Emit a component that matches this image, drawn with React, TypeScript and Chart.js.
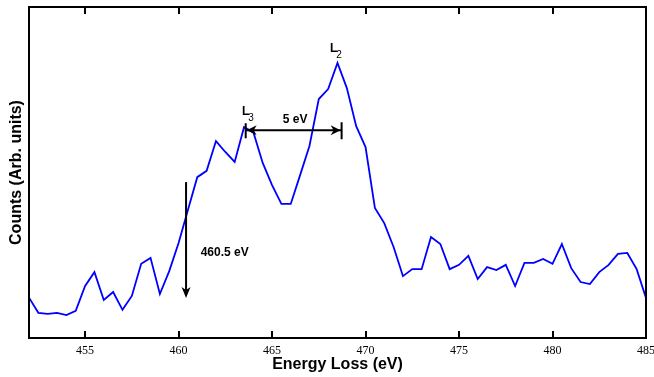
import React, { useEffect, useRef } from "react";
import { Chart, registerables } from "chart.js";

Chart.register(...registerables);

const energy = [
  452, 452.5, 453, 453.5, 454, 454.5, 455, 455.5, 456, 456.5, 457, 457.5,
  458, 458.5, 459, 459.5, 460, 460.5, 461, 461.5, 462, 462.5, 463, 463.5,
  464, 464.5, 465, 465.5, 466, 466.5, 467, 467.5, 468, 468.5, 469, 469.5,
  470, 470.5, 471, 471.5, 472, 472.5, 473, 473.5, 474, 474.5, 475, 475.5,
  476, 476.5, 477, 477.5, 478, 478.5, 479, 479.5, 480, 480.5, 481, 481.5,
  482, 482.5, 483, 483.5, 484, 484.5, 485,
];

const counts = [
  122, 76, 73, 76, 69, 82, 157, 199, 115, 139, 85, 127,
  224, 242, 133, 202, 287, 387, 486, 505, 595, 562, 532, 637,
  622, 529, 462, 405, 405, 492, 580, 722, 752, 831, 755, 640,
  577, 393, 347, 275, 187, 208, 208, 305, 284, 208, 221, 248,
  178, 214, 205, 221, 157, 227, 227, 239, 224, 284, 211, 169,
  163, 199, 221, 254, 257, 208, 121,
];

const xTicks = [455, 460, 465, 470, 475, 480, 485];

const xTitle = "Energy Loss (eV)";
const yTitle = "Counts (Arb. units)";

// annotation anchors in data units
const onsetArrow = { x: 460.4, yFrom: 471, yTo: 124 };
const onsetLabel = { text: "460.5 eV", x: 461.18, y: 258 };
const splitArrow = { x1: 463.59, x2: 468.72, y: 628 };
const splitLabel = { text: "5 eV", x: 466.23, y: 660 };
const l3Label = { main: "L", sub: "3", x: 463.39, y: 674 };
const l2Label = { main: "L", sub: "2", x: 468.1, y: 864 };

const framePlugin = {
  id: "framePlugin",
  afterDraw(chart: any) {
    const { ctx, chartArea, scales } = chart;
    const xs = scales.x;
    const ys = scales.y;
    ctx.save();
    ctx.strokeStyle = "#000";
    ctx.fillStyle = "#000";
    ctx.lineWidth = 2;
    ctx.strokeRect(
      chartArea.left,
      chartArea.top,
      chartArea.right - chartArea.left,
      chartArea.bottom - chartArea.top
    );
    // inward ticks
    xs.ticks.forEach((t: any) => {
      const px = Math.round(xs.getPixelForValue(t.value));
      ctx.beginPath();
      ctx.moveTo(px, chartArea.bottom);
      ctx.lineTo(px, chartArea.bottom - 7);
      ctx.moveTo(px, chartArea.top);
      ctx.lineTo(px, chartArea.top + 7);
      ctx.stroke();
    });

    // onset arrow
    const ax = xs.getPixelForValue(onsetArrow.x);
    const ay1 = ys.getPixelForValue(onsetArrow.yFrom);
    const ay2 = ys.getPixelForValue(onsetArrow.yTo);
    ctx.lineWidth = 2;
    ctx.beginPath();
    ctx.moveTo(ax, ay1);
    ctx.lineTo(ax, ay2 - 6);
    ctx.stroke();
    ctx.beginPath();
    ctx.moveTo(ax, ay2 + 1);
    ctx.lineTo(ax - 4.5, ay2 - 10);
    ctx.lineTo(ax, ay2 - 7);
    ctx.lineTo(ax + 4.5, ay2 - 10);
    ctx.closePath();
    ctx.fill();

    ctx.font = "bold 12px 'Liberation Sans', Arial, sans-serif";
    ctx.textBaseline = "middle";
    ctx.textAlign = "left";
    ctx.fillText(
      onsetLabel.text,
      xs.getPixelForValue(onsetLabel.x),
      ys.getPixelForValue(onsetLabel.y)
    );

    // split arrow (double-headed with end bars)
    const sx1 = xs.getPixelForValue(splitArrow.x1);
    const sx2 = xs.getPixelForValue(splitArrow.x2);
    const sy = ys.getPixelForValue(splitArrow.y);
    ctx.beginPath();
    ctx.moveTo(sx1, sy);
    ctx.lineTo(sx2, sy);
    ctx.moveTo(sx1, sy - 7);
    ctx.lineTo(sx1, sy + 8);
    ctx.moveTo(sx2, sy - 8);
    ctx.lineTo(sx2, sy + 9);
    ctx.stroke();
    ctx.beginPath();
    ctx.moveTo(sx1 + 1, sy);
    ctx.lineTo(sx1 + 11, sy - 5);
    ctx.lineTo(sx1 + 8, sy);
    ctx.lineTo(sx1 + 11, sy + 5);
    ctx.closePath();
    ctx.fill();
    ctx.beginPath();
    ctx.moveTo(sx2 - 1, sy);
    ctx.lineTo(sx2 - 11, sy - 5);
    ctx.lineTo(sx2 - 8, sy);
    ctx.lineTo(sx2 - 11, sy + 5);
    ctx.closePath();
    ctx.fill();

    ctx.textAlign = "center";
    ctx.fillText(
      splitLabel.text,
      xs.getPixelForValue(splitLabel.x),
      ys.getPixelForValue(splitLabel.y)
    );

    // L3 / L2 labels
    [l3Label, l2Label].forEach((l) => {
      const lx = xs.getPixelForValue(l.x);
      const ly = ys.getPixelForValue(l.y);
      ctx.textAlign = "left";
      ctx.textBaseline = "alphabetic";
      ctx.font = "bold 12px 'Liberation Sans', Arial, sans-serif";
      ctx.fillText(l.main, lx, ly);
      const w = ctx.measureText(l.main).width;
      ctx.font = "10px 'Liberation Sans', Arial, sans-serif";
      ctx.fillText(l.sub, lx + w - 1, ly + 6);
    });
    ctx.restore();
  },
};

export default function App() {
  const ref = useRef<HTMLCanvasElement | null>(null);

  useEffect(() => {
    document.body.style.margin = "0";
    const canvas = ref.current;
    if (!canvas) return;
    const chart = new Chart(canvas, {
      type: "line",
      data: {
        datasets: [
          {
            data: energy.map((e, i) => ({ x: e, y: counts[i] })),
            borderColor: "#0000ff",
            borderWidth: 1.8,
            pointRadius: 0,
            tension: 0,
            fill: false,
          },
        ],
      },
      options: {
        responsive: false,
        animation: false,
        events: [],
        layout: { padding: { top: 7, right: 8, left: 0, bottom: 0 } },
        plugins: {
          legend: { display: false },
          tooltip: { enabled: false },
        },
        scales: {
          x: {
            type: "linear",
            min: 452,
            max: 485,
            grid: { display: false, drawTicks: false },
            border: { display: false },
            afterBuildTicks: (s: any) => {
              s.ticks = xTicks.map((v) => ({ value: v }));
            },
            afterFit: (s: any) => {
              s.height = 39;
              s.paddingLeft = 0;
              s.paddingRight = 0;
            },
            ticks: {
              color: "#000",
              padding: 6,
              maxRotation: 0,
              autoSkip: false,
              font: { family: "'Liberation Serif', serif", size: 12 },
            },
            title: {
              display: true,
              text: xTitle,
              color: "#000",
              font: { family: "'Liberation Sans', Arial, sans-serif", size: 16, weight: "bold" },
              padding: { top: 0, bottom: 3 },
            },
          },
          y: {
            type: "linear",
            min: 0,
            max: 1000,
            grid: { display: false, drawTicks: false },
            border: { display: false },
            ticks: { display: false },
            afterFit: (s: any) => {
              s.width = 29;
            },
            title: {
              display: true,
              text: yTitle,
              color: "#000",
              font: { family: "'Liberation Sans', Arial, sans-serif", size: 16, weight: "bold" },
              padding: { top: 7, bottom: 0 },
            },
          },
        },
      },
      plugins: [framePlugin],
    } as any);
    return () => chart.destroy();
  }, []);

  return (
    <div style={{ width: 654, height: 377 }}>
      <canvas ref={ref} width={654} height={377} style={{ display: "block" }} />
    </div>
  );
}
